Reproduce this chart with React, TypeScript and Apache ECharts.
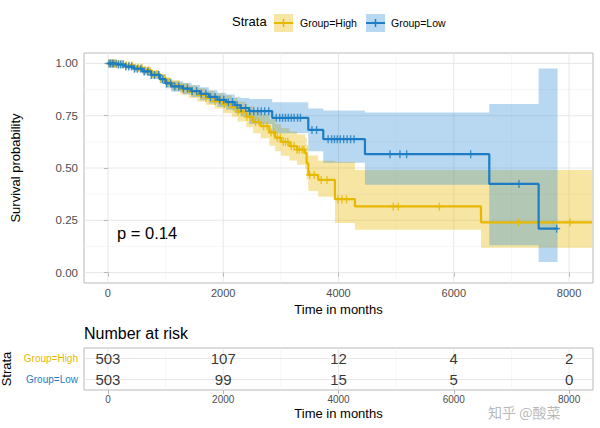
import React, { useEffect, useRef } from "react";
import * as echarts from "echarts";

// ---------- axis ticks ----------
const xTicks = [0, 2000, 4000, 6000, 8000];
const xMinor = [1000, 3000, 5000, 7000];
const yTicks = [0, 0.25, 0.5, 0.75, 1];
const yMinor = [0.125, 0.375, 0.625, 0.875];
const strata = ["Group=High", "Group=Low"];

// ---------- Kaplan-Meier: Group=High ----------
const highTimes = [0, 150, 300, 450, 600, 750, 900, 1000, 1100, 1250, 1400, 1550, 1700, 1850, 2000, 2150, 2250, 2400, 2520, 2650, 2800, 2900, 3000, 3150, 3280, 3418, 3447, 3476, 3649, 3938, 4285, 6472, 8400];
const highSurv = [1, 0.997, 0.99, 0.98, 0.968, 0.95, 0.928, 0.91, 0.895, 0.88, 0.865, 0.85, 0.835, 0.82, 0.805, 0.79, 0.77, 0.745, 0.72, 0.7, 0.67, 0.645, 0.625, 0.605, 0.588, 0.571, 0.523, 0.467, 0.443, 0.351, 0.316, 0.24, 0.24];
const highLower = [1, 0.99, 0.98, 0.966, 0.952, 0.931, 0.906, 0.886, 0.869, 0.852, 0.835, 0.818, 0.801, 0.784, 0.762, 0.745, 0.722, 0.695, 0.666, 0.642, 0.607, 0.58, 0.559, 0.536, 0.516, 0.497, 0.445, 0.39, 0.362, 0.237, 0.205, 0.118, 0.118];
const highUpper = [1, 1, 0.998, 0.992, 0.983, 0.968, 0.95, 0.934, 0.921, 0.908, 0.895, 0.882, 0.869, 0.856, 0.848, 0.835, 0.818, 0.795, 0.774, 0.758, 0.733, 0.71, 0.691, 0.674, 0.66, 0.645, 0.61, 0.56, 0.535, 0.53, 0.491, 0.491, 0.491];
const highCensor = [20, 50, 80, 110, 150, 190, 230, 270, 320, 370, 420, 470, 530, 590, 650, 710, 780, 850, 920, 990, 1060, 1140, 1220, 1300, 1380, 1460, 1540, 1620, 1700, 1780, 1860, 1940, 2020, 2100, 2180, 2260, 2330, 2410, 2480, 2560, 2620, 2700, 2760, 2830, 2880, 2940, 2990, 3040, 3080, 3120, 3180, 3230, 3280, 3320, 3370, 3400, 3500, 3580, 3700, 3800, 3990, 4060, 4140, 4950, 5037, 5748, 7119, 8016];

// ---------- Kaplan-Meier: Group=Low ----------
const lowTimes = [0, 150, 300, 450, 600, 750, 900, 1000, 1100, 1300, 1450, 1600, 1750, 1900, 2050, 2200, 2300, 2450, 2850, 3476, 3736, 4459, 6616, 7472, 7800];
const lowSurv = [1, 0.995, 0.985, 0.975, 0.962, 0.945, 0.925, 0.905, 0.89, 0.88, 0.868, 0.855, 0.84, 0.826, 0.815, 0.8, 0.787, 0.772, 0.74, 0.682, 0.638, 0.566, 0.424, 0.21, 0.21];
const lowLower = [1, 0.988, 0.975, 0.962, 0.946, 0.927, 0.904, 0.882, 0.865, 0.853, 0.839, 0.824, 0.808, 0.792, 0.779, 0.762, 0.748, 0.71, 0.666, 0.58, 0.525, 0.42, 0.13, 0.05, 0.05];
const lowUpper = [1, 1, 0.995, 0.988, 0.978, 0.963, 0.946, 0.928, 0.915, 0.907, 0.897, 0.886, 0.872, 0.86, 0.851, 0.838, 0.835, 0.83, 0.815, 0.785, 0.775, 0.766, 0.806, 0.976, 0.976];
const lowCensor = [20, 45, 75, 100, 140, 180, 220, 260, 310, 360, 410, 460, 510, 570, 630, 690, 750, 810, 880, 950, 1020, 1090, 1160, 1230, 1310, 1380, 1460, 1540, 1620, 1700, 1780, 1860, 1940, 2010, 2090, 2160, 2240, 2310, 2390, 2460, 2530, 2600, 2660, 2720, 2790, 2920, 2980, 3030, 3080, 3130, 3180, 3230, 3290, 3340, 3540, 3620, 3820, 3880, 3930, 3980, 4030, 4090, 4150, 4210, 4270, 4893, 5066, 5182, 6293, 7131, 7785];

// ---------- number at risk ----------
const riskTimes = [0, 2000, 4000, 6000, 8000];
const riskHigh = [503, 107, 12, 4, 2];
const riskLow = [503, 99, 15, 5, 0];

const HIGH_LINE = "#E7B800";
const HIGH_FILL = "rgba(231,184,0,0.36)";
const LOW_LINE = "#1C7DC4";
const LOW_FILL = "rgba(46,140,215,0.34)";
const GRID_MAJOR = "#E4E4E4";
const GRID_MINOR = "#F0F0F0";
const BORDER = "#B8B8B8";
const TICK_TEXT = "#4D4D4D";
const FONT = "Liberation Sans, Arial, Helvetica, sans-serif";
const PLUS = "path://M4,0 h2 v10 h-2 z M0,4 h10 v2 h-10 z";

function stepAt(times: number[], surv: number[], t: number) {
  let v = surv[0];
  for (let i = 0; i < times.length; i++) {
    if (times[i] <= t) v = surv[i];
  }
  return v;
}

function gridRender(params: any, api: any) {
  const cs = params.coordSys;
  const kind = api.value(2);
  const p = api.coord([api.value(0), api.value(1)]);
  const vertical = kind === 0 || kind === 1;
  const major = kind === 0 || kind === 2;
  const shape = vertical
    ? { x1: p[0], y1: cs.y, x2: p[0], y2: cs.y + cs.height }
    : { x1: cs.x, y1: p[1], x2: cs.x + cs.width, y2: p[1] };
  return {
    type: "line",
    shape,
    style: { stroke: major ? GRID_MAJOR : GRID_MINOR, lineWidth: major ? 0.9 : 0.6 },
  };
}

function bandRender(times: number[], lower: number[], upper: number[], fill: string) {
  return (params: any, api: any) => {
    const pts: number[][] = [];
    for (let i = 0; i < times.length - 1; i++) {
      pts.push(api.coord([times[i], upper[i]]));
      pts.push(api.coord([times[i + 1], upper[i]]));
    }
    for (let i = times.length - 2; i >= 0; i--) {
      pts.push(api.coord([times[i + 1], lower[i]]));
      pts.push(api.coord([times[i], lower[i]]));
    }
    return { type: "polygon", shape: { points: pts }, style: { fill, stroke: "none" } };
  };
}

function buildOption(): any {
  const mainGridData = [
    ...xTicks.map((v) => [v, 0.5, 0]),
    ...xMinor.map((v) => [v, 0.5, 1]),
    ...yTicks.map((v) => [0, v, 2]),
    ...yMinor.map((v) => [0, v, 3]),
  ];
  const riskGridData = [
    ...xTicks.map((v) => [v, strata[0], 0]),
    ...xMinor.map((v) => [v, strata[0], 1]),
    ...strata.map((s) => [0, s, 2]),
  ];
  const xCommon = {
    type: "value",
    min: -415,
    max: 8415,
    axisLine: { show: false },
    splitLine: { show: false },
    axisTick: { show: true, customValues: xTicks, length: 4, lineStyle: { color: BORDER } },
    nameLocation: "middle",
    nameTextStyle: { fontSize: 13, color: "#000", fontFamily: FONT },
  };
  const gridCommon = {
    left: 84,
    right: 7,
    show: true,
    borderColor: BORDER,
    borderWidth: 1,
    backgroundColor: "transparent",
    containLabel: false,
    outerBoundsMode: "none",
  };
  return {
    animation: false,
    backgroundColor: "#fff",
    textStyle: { fontFamily: FONT },
    grid: [
      { ...gridCommon, top: 53, height: 230 },
      { ...gridCommon, top: 348, height: 42 },
    ],
    xAxis: [
      {
        ...xCommon,
        gridIndex: 0,
        name: "Time in months",
        nameGap: 17,
        axisLabel: { customValues: xTicks, color: TICK_TEXT, fontSize: 11, margin: 4, formatter: (v: number) => String(v) },
      },
      {
        ...xCommon,
        gridIndex: 1,
        name: "Time in months",
        nameGap: 17,
        axisLabel: { customValues: xTicks, color: TICK_TEXT, fontSize: 10, margin: 4, formatter: (v: number) => String(v) },
      },
    ],
    yAxis: [
      {
        type: "value",
        gridIndex: 0,
        min: -0.05,
        max: 1.05,
        axisLine: { show: false },
        splitLine: { show: false },
        axisTick: { show: true, customValues: yTicks, length: 4, lineStyle: { color: BORDER } },
        axisLabel: { customValues: yTicks, color: TICK_TEXT, fontSize: 11.5, margin: 6, formatter: (v: number) => v.toFixed(2) },
        name: "Survival probability",
        nameLocation: "middle",
        nameRotate: 90,
        nameGap: 62,
        nameTextStyle: { fontSize: 13, color: "#000", fontFamily: FONT },
      },
      {
        type: "category",
        gridIndex: 1,
        data: strata,
        inverse: true,
        axisLine: { show: false },
        splitLine: { show: false },
        axisTick: { show: true, alignWithLabel: true, length: 4, lineStyle: { color: BORDER } },
        axisLabel: {
          margin: 6,
          formatter: (v: string) => (v === strata[0] ? "{h|" + v + "}" : "{l|" + v + "}"),
          rich: {
            h: { color: HIGH_LINE, fontSize: 10, fontFamily: FONT },
            l: { color: LOW_LINE, fontSize: 10, fontFamily: FONT },
          },
        },
        name: "Strata",
        nameLocation: "middle",
        nameRotate: 90,
        nameGap: 64,
        nameTextStyle: { fontSize: 13, color: "#000", fontFamily: FONT },
      },
    ],
    series: [
      {
        type: "custom",
        xAxisIndex: 0,
        yAxisIndex: 0,
        renderItem: gridRender,
        data: mainGridData,
        encode: { x: 0, y: 1 },
        silent: true,
        z: 0,
      },
      {
        type: "custom",
        xAxisIndex: 1,
        yAxisIndex: 1,
        renderItem: gridRender,
        data: riskGridData,
        encode: { x: 0, y: 1 },
        silent: true,
        z: 0,
      },
      {
        type: "custom",
        name: "Group=High CI",
        xAxisIndex: 0,
        yAxisIndex: 0,
        renderItem: bandRender(highTimes, highLower, highUpper, HIGH_FILL),
        data: [[0, 0.5]],
        encode: { x: 0, y: 1 },
        silent: true,
        z: 1,
      },
      {
        type: "custom",
        name: "Group=Low CI",
        xAxisIndex: 0,
        yAxisIndex: 0,
        renderItem: bandRender(lowTimes, lowLower, lowUpper, LOW_FILL),
        data: [[0, 0.5]],
        encode: { x: 0, y: 1 },
        silent: true,
        z: 1,
      },
      {
        type: "line",
        name: "Group=High",
        xAxisIndex: 0,
        yAxisIndex: 0,
        step: "end",
        symbol: "none",
        data: highTimes.map((t, i) => [t, highSurv[i]]),
        lineStyle: { color: HIGH_LINE, width: 2.2 },
        z: 3,
      },
      {
        type: "scatter",
        xAxisIndex: 0,
        yAxisIndex: 0,
        symbol: PLUS,
        symbolSize: [7, 8],
        data: highCensor.map((t) => [t, stepAt(highTimes, highSurv, t)]),
        itemStyle: { color: HIGH_LINE },
        z: 3,
      },
      {
        type: "line",
        name: "Group=Low",
        xAxisIndex: 0,
        yAxisIndex: 0,
        step: "end",
        symbol: "none",
        data: lowTimes.map((t, i) => [t, lowSurv[i]]),
        lineStyle: { color: LOW_LINE, width: 2.2 },
        z: 4,
      },
      {
        type: "scatter",
        xAxisIndex: 0,
        yAxisIndex: 0,
        symbol: PLUS,
        symbolSize: [7, 8],
        data: lowCensor.map((t) => [t, stepAt(lowTimes, lowSurv, t)]),
        itemStyle: { color: LOW_LINE },
        z: 4,
      },
      {
        type: "scatter",
        xAxisIndex: 1,
        yAxisIndex: 1,
        symbolSize: 1,
        itemStyle: { color: "rgba(0,0,0,0)" },
        data: riskTimes.map((t, i) => [t, strata[0], riskHigh[i]]),
        encode: { x: 0, y: 1 },
        label: { show: true, position: "inside", formatter: (p: any) => String(p.value[2]), fontSize: 15, color: "#000", fontFamily: FONT },
        z: 5,
      },
      {
        type: "scatter",
        xAxisIndex: 1,
        yAxisIndex: 1,
        symbolSize: 1,
        itemStyle: { color: "rgba(0,0,0,0)" },
        data: riskTimes.map((t, i) => [t, strata[1], riskLow[i]]),
        encode: { x: 0, y: 1 },
        label: { show: true, position: "inside", formatter: (p: any) => String(p.value[2]), fontSize: 15, color: "#000", fontFamily: FONT },
        z: 5,
      },
    ],
    graphic: [
      { type: "text", left: 232, top: 15, style: { text: "Strata", fontSize: 13, fill: "#000", fontFamily: FONT } },
      { type: "rect", shape: { x: 274, y: 14, width: 19, height: 18 }, style: { fill: HIGH_FILL } },
      { type: "line", shape: { x1: 274, y1: 23, x2: 293, y2: 23 }, style: { stroke: HIGH_LINE, lineWidth: 2 } },
      { type: "line", shape: { x1: 283.5, y1: 19, x2: 283.5, y2: 27 }, style: { stroke: HIGH_LINE, lineWidth: 1.5 } },
      { type: "text", left: 300, top: 17, style: { text: "Group=High", fontSize: 10.5, fill: "#000", fontFamily: FONT } },
      { type: "rect", shape: { x: 366, y: 14, width: 19, height: 18 }, style: { fill: LOW_FILL } },
      { type: "line", shape: { x1: 366, y1: 23, x2: 385, y2: 23 }, style: { stroke: LOW_LINE, lineWidth: 2 } },
      { type: "line", shape: { x1: 375.5, y1: 19, x2: 375.5, y2: 27 }, style: { stroke: LOW_LINE, lineWidth: 1.5 } },
      { type: "text", left: 391, top: 17, style: { text: "Group=Low", fontSize: 10.5, fill: "#000", fontFamily: FONT } },
      { type: "text", left: 117, top: 224, style: { text: "p = 0.14", fontSize: 16.5, fill: "#000", fontFamily: FONT } },
      { type: "text", left: 84, top: 325, style: { text: "Number at risk", fontSize: 16, fill: "#000", fontFamily: FONT } },
      { type: "text", left: 488, top: 405, style: { text: "知乎 @酸菜", fontSize: 14, fill: "rgba(160,160,160,0.75)", fontFamily: "Noto Sans CJK SC, sans-serif" } },
    ],
  };
}

export default function App() {
  const ref = useRef<HTMLDivElement>(null);
  useEffect(() => {
    if (!ref.current) return;
    const chart = echarts.init(ref.current, null, { renderer: "svg" });
    chart.setOption(buildOption());
    return () => {
      chart.dispose();
    };
  }, []);
  return (
    <div
      ref={ref}
      style={{ position: "absolute", left: 0, top: 0, width: 600, height: 428, background: "#fff" }}
    />
  );
}
